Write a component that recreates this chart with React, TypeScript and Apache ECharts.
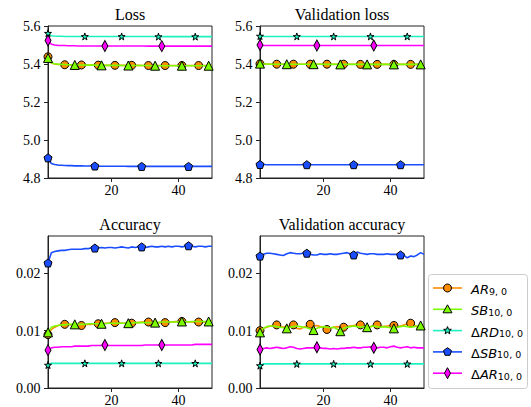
import React, { useEffect, useRef } from "react";
import * as echarts from "echarts";

// ---------------- data ----------------
const epochTicks = [20, 40];
const lossTicks = [4.8, 5.0, 5.2, 5.4, 5.6];
const accTicks = [0, 0.01, 0.02];

const seriesNames = ["AR", "SB", "ΔRD", "ΔSB", "ΔAR"];

// Loss
const lossAR = [5.438, 5.405, 5.400, 5.398, 5.397, 5.396, 5.396, 5.395, 5.395, 5.395,
  5.395, 5.394, 5.394, 5.394, 5.394, 5.394, 5.394, 5.393, 5.393, 5.393,
  5.393, 5.393, 5.393, 5.393, 5.393, 5.393, 5.393, 5.393, 5.392, 5.392,
  5.392, 5.392, 5.392, 5.392, 5.392, 5.392, 5.392, 5.392, 5.392, 5.392,
  5.392, 5.392, 5.392, 5.392, 5.392, 5.392, 5.392, 5.392, 5.392, 5.392];
const lossSB = [5.432, 5.407, 5.401, 5.399, 5.398, 5.397, 5.396, 5.396, 5.395, 5.395,
  5.395, 5.394, 5.394, 5.394, 5.394, 5.393, 5.393, 5.393, 5.393, 5.393,
  5.393, 5.393, 5.392, 5.392, 5.392, 5.392, 5.392, 5.392, 5.392, 5.392,
  5.392, 5.391, 5.391, 5.391, 5.391, 5.391, 5.391, 5.391, 5.391, 5.391,
  5.391, 5.391, 5.391, 5.391, 5.391, 5.391, 5.391, 5.391, 5.391, 5.391];
const lossRD = [5.562, 5.549, 5.547, 5.546, 5.546, 5.545, 5.545, 5.545, 5.545, 5.545,
  5.545, 5.545, 5.545, 5.545, 5.545, 5.545, 5.545, 5.545, 5.545, 5.545,
  5.545, 5.545, 5.545, 5.545, 5.545, 5.545, 5.545, 5.545, 5.545, 5.545,
  5.545, 5.545, 5.545, 5.544, 5.544, 5.544, 5.544, 5.544, 5.544, 5.544,
  5.544, 5.544, 5.544, 5.544, 5.544, 5.544, 5.544, 5.544, 5.544, 5.544];
const lossDSB = [4.906, 4.876, 4.871, 4.868, 4.867, 4.866, 4.865, 4.865, 4.864, 4.864,
  4.864, 4.863, 4.863, 4.863, 4.863, 4.862, 4.862, 4.862, 4.862, 4.862,
  4.862, 4.862, 4.862, 4.862, 4.861, 4.861, 4.861, 4.861, 4.861, 4.861,
  4.861, 4.861, 4.861, 4.861, 4.861, 4.861, 4.861, 4.861, 4.861, 4.861,
  4.861, 4.861, 4.861, 4.861, 4.861, 4.861, 4.861, 4.861, 4.861, 4.861];
const lossDAR = [5.524, 5.504, 5.500, 5.498, 5.497, 5.497, 5.496, 5.496, 5.496, 5.495,
  5.495, 5.495, 5.495, 5.495, 5.495, 5.495, 5.495, 5.495, 5.495, 5.495,
  5.495, 5.495, 5.495, 5.495, 5.495, 5.495, 5.495, 5.495, 5.495, 5.495,
  5.494, 5.494, 5.494, 5.494, 5.494, 5.494, 5.494, 5.494, 5.494, 5.494,
  5.494, 5.494, 5.494, 5.494, 5.494, 5.494, 5.494, 5.494, 5.494, 5.494];

// Validation loss
const vlossAR = [5.401, 5.400, 5.400, 5.399, 5.399, 5.399, 5.399, 5.399, 5.399, 5.399,
  5.399, 5.399, 5.399, 5.399, 5.399, 5.399, 5.399, 5.399, 5.399, 5.399,
  5.399, 5.399, 5.399, 5.399, 5.399, 5.399, 5.399, 5.399, 5.399, 5.399,
  5.398, 5.398, 5.398, 5.398, 5.398, 5.398, 5.398, 5.398, 5.398, 5.398,
  5.398, 5.398, 5.398, 5.398, 5.398, 5.398, 5.398, 5.398, 5.398, 5.398];
const vlossSB = [5.402, 5.400, 5.400, 5.399, 5.399, 5.399, 5.399, 5.399, 5.399, 5.399,
  5.399, 5.399, 5.399, 5.399, 5.399, 5.399, 5.399, 5.399, 5.399, 5.399,
  5.398, 5.398, 5.398, 5.398, 5.398, 5.398, 5.398, 5.398, 5.398, 5.398,
  5.398, 5.398, 5.398, 5.398, 5.398, 5.398, 5.398, 5.398, 5.398, 5.398,
  5.398, 5.398, 5.398, 5.398, 5.398, 5.398, 5.398, 5.398, 5.398, 5.398];
const vlossRD = [5.547, 5.545, 5.545, 5.545, 5.545, 5.545, 5.545, 5.545, 5.545, 5.545,
  5.545, 5.545, 5.545, 5.545, 5.545, 5.545, 5.545, 5.545, 5.545, 5.545,
  5.545, 5.545, 5.545, 5.545, 5.545, 5.545, 5.545, 5.545, 5.545, 5.545,
  5.545, 5.545, 5.545, 5.545, 5.545, 5.545, 5.545, 5.545, 5.545, 5.545,
  5.545, 5.545, 5.545, 5.545, 5.545, 5.545, 5.545, 5.545, 5.545, 5.545];
const vlossDSB = [4.871, 4.871, 4.870, 4.870, 4.870, 4.870, 4.870, 4.870, 4.870, 4.870,
  4.870, 4.870, 4.870, 4.870, 4.870, 4.870, 4.870, 4.870, 4.870, 4.870,
  4.870, 4.870, 4.870, 4.870, 4.870, 4.870, 4.870, 4.870, 4.870, 4.870,
  4.870, 4.870, 4.870, 4.870, 4.870, 4.870, 4.870, 4.870, 4.870, 4.870,
  4.870, 4.870, 4.870, 4.870, 4.870, 4.870, 4.870, 4.870, 4.870, 4.870];
const vlossDAR = [5.500, 5.498, 5.497, 5.497, 5.497, 5.497, 5.497, 5.497, 5.497, 5.497,
  5.497, 5.497, 5.497, 5.497, 5.497, 5.497, 5.497, 5.497, 5.497, 5.497,
  5.497, 5.497, 5.497, 5.497, 5.497, 5.497, 5.497, 5.497, 5.497, 5.497,
  5.497, 5.497, 5.497, 5.497, 5.497, 5.497, 5.497, 5.497, 5.497, 5.497,
  5.497, 5.497, 5.497, 5.497, 5.497, 5.497, 5.497, 5.497, 5.497, 5.497];

// Accuracy
const accAR = [0.0093, 0.0102, 0.0106, 0.0109, 0.0110, 0.0111, 0.0111, 0.0110, 0.0110, 0.0109,
  0.0109, 0.0110, 0.0111, 0.0111, 0.0112, 0.0112, 0.0112, 0.0113, 0.0113, 0.0114,
  0.0114, 0.0114, 0.0113, 0.0113, 0.0113, 0.0113, 0.0114, 0.0114, 0.0115, 0.0115,
  0.0115, 0.0115, 0.0114, 0.0114, 0.0114, 0.0114, 0.0115, 0.0115, 0.0116, 0.0116,
  0.0116, 0.0116, 0.0115, 0.0115, 0.0115, 0.0115, 0.0115, 0.0115, 0.0116, 0.0116];
const accSB = [0.0097, 0.0106, 0.0108, 0.0109, 0.0110, 0.0110, 0.0111, 0.0111, 0.0111, 0.0111,
  0.0111, 0.0111, 0.0112, 0.0112, 0.0112, 0.0112, 0.0112, 0.0112, 0.0113, 0.0113,
  0.0113, 0.0113, 0.0113, 0.0113, 0.0113, 0.0113, 0.0114, 0.0114, 0.0114, 0.0114,
  0.0114, 0.0114, 0.0114, 0.0114, 0.0115, 0.0115, 0.0115, 0.0115, 0.0115, 0.0115,
  0.0116, 0.0116, 0.0115, 0.0116, 0.0116, 0.0116, 0.0116, 0.0116, 0.0116, 0.0116];
const accRD = [0.0040, 0.0043, 0.0043, 0.0043, 0.0043, 0.0043, 0.0043, 0.0043, 0.0043, 0.0043,
  0.0043, 0.0043, 0.0043, 0.0043, 0.0043, 0.0043, 0.0043, 0.0043, 0.0043, 0.0043,
  0.0043, 0.0043, 0.0043, 0.0043, 0.0043, 0.0043, 0.0043, 0.0043, 0.0043, 0.0043,
  0.0043, 0.0043, 0.0043, 0.0043, 0.0043, 0.0043, 0.0043, 0.0043, 0.0043, 0.0043,
  0.0043, 0.0043, 0.0043, 0.0043, 0.0043, 0.0043, 0.0043, 0.0043, 0.0043, 0.0043];
const accDSB = [0.0218, 0.0236, 0.0238, 0.0239, 0.0240, 0.0240, 0.0241, 0.0242, 0.0242, 0.0242,
  0.0242, 0.0243, 0.0243, 0.0244, 0.0244, 0.0244, 0.0245, 0.0244, 0.0245, 0.0245,
  0.0244, 0.0245, 0.0246, 0.0245, 0.0244, 0.0246, 0.0245, 0.0246, 0.0246, 0.0245,
  0.0246, 0.0247, 0.0246, 0.0246, 0.0247, 0.0246, 0.0247, 0.0246, 0.0247, 0.0247,
  0.0246, 0.0247, 0.0248, 0.0247, 0.0246, 0.0247, 0.0247, 0.0246, 0.0247, 0.0247];
const accDAR = [0.0066, 0.0070, 0.0071, 0.0071, 0.0072, 0.0072, 0.0072, 0.0072, 0.0073, 0.0073,
  0.0073, 0.0073, 0.0073, 0.0074, 0.0074, 0.0074, 0.0074, 0.0075, 0.0074, 0.0074,
  0.0074, 0.0074, 0.0074, 0.0074, 0.0074, 0.0074, 0.0074, 0.0074, 0.0074, 0.0075,
  0.0075, 0.0075, 0.0075, 0.0075, 0.0075, 0.0075, 0.0075, 0.0075, 0.0075, 0.0075,
  0.0075, 0.0075, 0.0075, 0.0075, 0.0076, 0.0076, 0.0076, 0.0076, 0.0076, 0.0076];

// Validation accuracy
const vaccAR = [0.0100, 0.0104, 0.0106, 0.0108, 0.0109, 0.0110, 0.0108, 0.0106, 0.0108, 0.0107,
  0.0110, 0.0104, 0.0103, 0.0106, 0.0108, 0.0111, 0.0108, 0.0109, 0.0107, 0.0105,
  0.0102, 0.0104, 0.0106, 0.0107, 0.0106, 0.0106, 0.0107, 0.0108, 0.0109, 0.0110,
  0.0110, 0.0108, 0.0106, 0.0107, 0.0109, 0.0110, 0.0108, 0.0107, 0.0108, 0.0109,
  0.0109, 0.0107, 0.0108, 0.0110, 0.0112, 0.0113, 0.0110, 0.0106, 0.0104, 0.0105];
const vaccSB = [0.0097, 0.0104, 0.0107, 0.0108, 0.0108, 0.0107, 0.0106, 0.0105, 0.0104, 0.0106,
  0.0107, 0.0108, 0.0107, 0.0106, 0.0105, 0.0103, 0.0101, 0.0104, 0.0106, 0.0107,
  0.0106, 0.0105, 0.0106, 0.0103, 0.0099, 0.0104, 0.0106, 0.0107, 0.0108, 0.0107,
  0.0106, 0.0107, 0.0106, 0.0107, 0.0108, 0.0107, 0.0106, 0.0107, 0.0106, 0.0105,
  0.0104, 0.0106, 0.0107, 0.0108, 0.0107, 0.0106, 0.0107, 0.0108, 0.0109, 0.0108];
const vaccRD = [0.0039, 0.0042, 0.0042, 0.0042, 0.0042, 0.0042, 0.0042, 0.0042, 0.0042, 0.0042,
  0.0042, 0.0042, 0.0042, 0.0042, 0.0042, 0.0042, 0.0042, 0.0042, 0.0042, 0.0042,
  0.0042, 0.0042, 0.0042, 0.0042, 0.0042, 0.0042, 0.0042, 0.0042, 0.0042, 0.0042,
  0.0042, 0.0042, 0.0042, 0.0042, 0.0042, 0.0042, 0.0042, 0.0042, 0.0042, 0.0042,
  0.0042, 0.0042, 0.0042, 0.0042, 0.0042, 0.0042, 0.0042, 0.0042, 0.0042, 0.0042];
const vaccDSB = [0.0230, 0.0233, 0.0235, 0.0235, 0.0234, 0.0233, 0.0232, 0.0231, 0.0234, 0.0236,
  0.0235, 0.0234, 0.0234, 0.0235, 0.0235, 0.0233, 0.0232, 0.0232, 0.0234, 0.0233,
  0.0233, 0.0234, 0.0233, 0.0233, 0.0234, 0.0235, 0.0236, 0.0234, 0.0232, 0.0237,
  0.0235, 0.0234, 0.0233, 0.0234, 0.0234, 0.0233, 0.0233, 0.0233, 0.0234, 0.0233,
  0.0233, 0.0233, 0.0232, 0.0231, 0.0227, 0.0230, 0.0229, 0.0232, 0.0236, 0.0233];
const vaccDAR = [0.0067, 0.0069, 0.0070, 0.0069, 0.0070, 0.0071, 0.0070, 0.0069, 0.0070, 0.0072,
  0.0071, 0.0069, 0.0068, 0.0069, 0.0070, 0.0070, 0.0070, 0.0071, 0.0070, 0.0069,
  0.0069, 0.0068, 0.0069, 0.0068, 0.0069, 0.0069, 0.0070, 0.0070, 0.0071, 0.0070,
  0.0070, 0.0071, 0.0071, 0.0072, 0.0070, 0.0070, 0.0071, 0.0071, 0.0070, 0.0072,
  0.0073, 0.0071, 0.0070, 0.0071, 0.0072, 0.0070, 0.0071, 0.0070, 0.0070, 0.0070];

// ---------------- styling / layout ----------------
const STAR = "path://M50,0 L61,35 L98,35 L68,57 L79,91 L50,70 L21,91 L32,57 L2,35 L39,35 Z";
const PENTA = "path://M50,0 L98,36 L80,95 L20,95 L2,36 Z";

const styles = [
  { color: "#ff8c00", symbol: "circle", size: 8, every: 5 },
  { color: "#7cfc00", symbol: "triangle", size: 9, every: 8 },
  { color: "#1ef0c0", symbol: STAR, size: 7, every: 11 },
  { color: "#1a4dff", symbol: PENTA, size: 8, every: 14 },
  { color: "#ff00ff", symbol: "diamond", size: [6, 11], every: 17 },
];

const legendText = [
  "{i|AR}{s|9, 0}",
  "{i|SB}{s|10, 0}",
  "{u|Δ}{i|RD}{s|10, 0}",
  "{u|Δ}{i|SB}{s|10, 0}",
  "{u|Δ}{i|AR}{s|10, 0}",
];

const panels = [
  { title: "Loss", data: [lossAR, lossSB, lossRD, lossDSB, lossDAR], yMin: 4.8, yMax: 5.6, yTicks: lossTicks, digits: 1, left: 48, top: 26 },
  { title: "Validation loss", data: [vlossAR, vlossSB, vlossRD, vlossDSB, vlossDAR], yMin: 4.8, yMax: 5.6, yTicks: lossTicks, digits: 1, left: 260, top: 26 },
  { title: "Accuracy", data: [accAR, accSB, accRD, accDSB, accDAR], yMin: 0, yMax: 0.0265, yTicks: accTicks, digits: 2, left: 48, top: 236 },
  { title: "Validation accuracy", data: [vaccAR, vaccSB, vaccRD, vaccDSB, vaccDAR], yMin: 0, yMax: 0.0265, yTicks: accTicks, digits: 2, left: 260, top: 236 },
];
const PW = 164;
const PH = 152;
const SERIF = "Liberation Serif";

function markerShape(j: number, cx: number, cy: number, color: string): any {
  const style = { fill: color, stroke: "#000", lineWidth: 1 };
  if (j === 0) return { type: "circle", shape: { cx, cy, r: 4 }, style };
  if (j === 1) return { type: "polygon", shape: { points: [[cx, cy - 4.5], [cx + 4.5, cy + 3.5], [cx - 4.5, cy + 3.5]] }, style };
  if (j === 2) {
    const pts: number[][] = [];
    for (let k = 0; k < 10; k++) {
      const r = k % 2 === 0 ? 4 : 1.7;
      const a = -Math.PI / 2 + (k * Math.PI) / 5;
      pts.push([cx + r * Math.cos(a), cy + r * Math.sin(a)]);
    }
    return { type: "polygon", shape: { points: pts }, style };
  }
  if (j === 3) {
    const pts: number[][] = [];
    for (let k = 0; k < 5; k++) {
      const a = -Math.PI / 2 + (k * 2 * Math.PI) / 5;
      pts.push([cx + 4.2 * Math.cos(a), cy + 4.2 * Math.sin(a)]);
    }
    return { type: "polygon", shape: { points: pts }, style };
  }
  return { type: "polygon", shape: { points: [[cx, cy - 5.5], [cx + 3, cy], [cx, cy + 5.5], [cx - 3, cy]] }, style };
}

export default function App() {
  const ref = useRef<HTMLDivElement>(null);
  useEffect(() => {
    if (!ref.current) return;
    const chart = echarts.init(ref.current, null, { renderer: "svg" });
    const grid = panels.map((p) => ({
      left: p.left, top: p.top, width: PW, height: PH,
      show: true, borderColor: "#222", borderWidth: 1, backgroundColor: "transparent",
      outerBoundsMode: "none",
    }));
    const xAxis = panels.map((p, i) => ({
      type: "value", gridIndex: i, min: 1, max: 50,
      axisLine: { show: true, onZero: false, lineStyle: { color: "#222", width: 1 } },
      axisTick: { show: true, customValues: epochTicks, length: 4, lineStyle: { color: "#222" } },
      axisLabel: { show: false },
      splitLine: { show: false },
    }));
    const yAxis = panels.map((p, i) => ({
      type: "value", gridIndex: i, min: p.yMin, max: p.yMax,
      axisLine: { show: true, onZero: false, lineStyle: { color: "#222", width: 1 } },
      axisTick: { show: true, customValues: p.yTicks, length: 4, lineStyle: { color: "#222" } },
      axisLabel: { show: false },
      splitLine: { show: false },
    }));
    const series: any[] = [];
    panels.forEach((p, i) => {
      p.data.forEach((arr, j) => {
        const st = styles[j];
        series.push({
          type: "line",
          name: seriesNames[j],
          xAxisIndex: i,
          yAxisIndex: i,
          symbol: st.symbol,
          symbolSize: st.size,
          showSymbol: true,
          showAllSymbol: true,
          clip: true,
          data: arr.map((v, k) => ({
            value: [k + 1, v],
            symbol: k % st.every === 0 ? st.symbol : "none",
          })),
          lineStyle: { color: st.color, width: 1.6 },
          itemStyle: { color: st.color, borderColor: "#000", borderWidth: 1 },
          emphasis: { disabled: true },
          z: 2 + j,
        });
      });
    });
    const graphic: any[] = panels.map((p) => ({
      type: "text",
      x: p.left + PW / 2,
      y: p.top - 12,
      style: {
        text: p.title,
        fontFamily: SERIF,
        fontSize: 16,
        fill: "#000",
        align: "center",
        verticalAlign: "middle",
      },
    }));
    // legend box
    const LX = 428, LY = 274, LW = 99, LH = 114;
    graphic.push({
      type: "rect",
      shape: { x: LX + 0.5, y: LY + 0.5, width: LW, height: LH, r: 3 },
      style: { fill: "rgba(255,255,255,0.9)", stroke: "#cccccc", lineWidth: 1 },
      z: 50,
    });
    seriesNames.forEach((name, j) => {
      const cy = LY + 14 + j * 21.3;
      const st = styles[j];
      graphic.push({
        type: "line",
        shape: { x1: LX + 5, y1: cy, x2: LX + 34, y2: cy },
        style: { stroke: st.color, lineWidth: 1.6 },
        z: 51,
      });
      graphic.push({ ...markerShape(j, LX + 19.5, cy, st.color), z: 52 });
      graphic.push({
        type: "text",
        x: LX + 43,
        y: cy,
        z: 52,
        style: {
          text: legendText[j],
          fontFamily: "DejaVu Sans",
          fontSize: 13,
          fill: "#000",
          verticalAlign: "middle",
          rich: {
            i: { fontFamily: "DejaVu Sans", fontStyle: "italic", fontSize: 13, lineHeight: 16, verticalAlign: "bottom", fill: "#000" },
            u: { fontFamily: "DejaVu Sans", fontSize: 13, lineHeight: 16, verticalAlign: "bottom", fill: "#000" },
            s: { fontFamily: "DejaVu Sans", fontSize: 9.5, lineHeight: 10, verticalAlign: "bottom", fill: "#000" },
          },
        },
      });
    });
    chart.setOption({
      animation: false,
      grid,
      xAxis,
      yAxis,
      series,
    });
    // tick labels placed through the axes' own scales
    const labelStyle = { fontFamily: SERIF, fontSize: 14, fill: "#000" };
    panels.forEach((p, i) => {
      p.yTicks.forEach((v) => {
        const pt = chart.convertToPixel({ gridIndex: i } as any, [1, v]) as number[];
        graphic.push({
          type: "text", x: pt[0] - 7.5, y: pt[1] + 0.5,
          style: { ...labelStyle, text: v.toFixed(p.digits), align: "right", verticalAlign: "middle" },
        });
      });
      epochTicks.forEach((v) => {
        const pt = chart.convertToPixel({ gridIndex: i } as any, [v, p.yMin]) as number[];
        graphic.push({
          type: "text", x: pt[0], y: pt[1] + 12,
          style: { ...labelStyle, text: String(v), align: "center", verticalAlign: "middle" },
        });
      });
    });
    chart.setOption({ graphic });
    return () => chart.dispose();
  }, []);
  return (
    <div
      ref={ref}
      style={{ position: "fixed", left: 0, top: 0, width: 531, height: 407, background: "#fff" }}
    />
  );
}
